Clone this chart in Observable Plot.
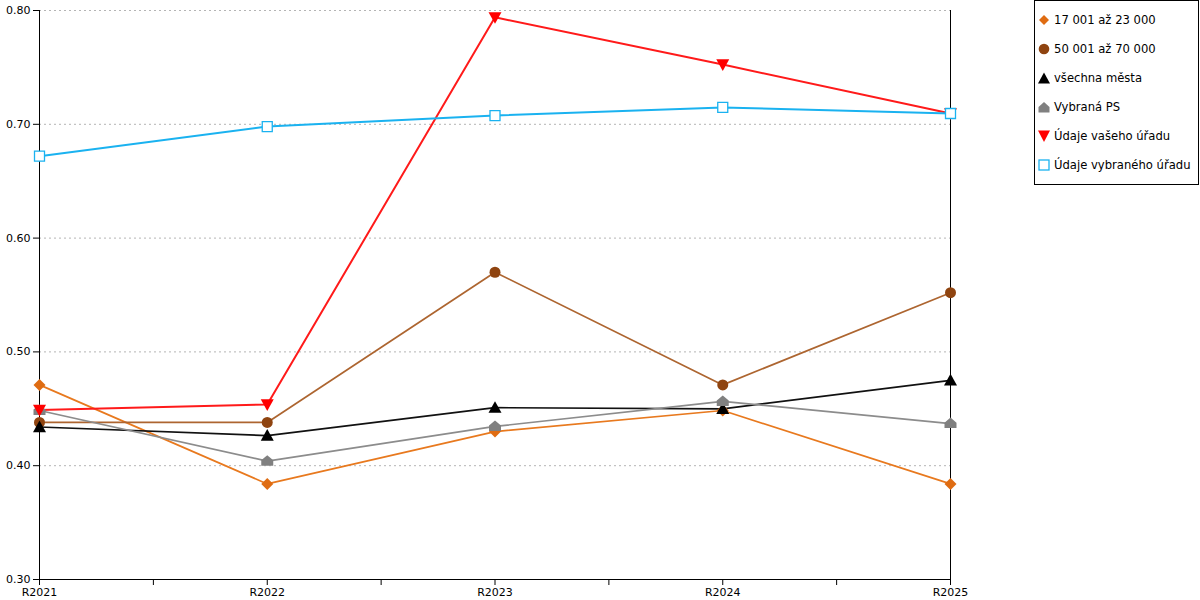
<!DOCTYPE html>
<html>
<head>
<meta charset="utf-8">
<script src="https://cdn.jsdelivr.net/npm/d3@7"></script>
<script src="https://cdn.jsdelivr.net/npm/@observablehq/plot@0.6"></script>
<style>
  body { margin: 0; background: #fff; font-family: "DejaVu Sans", Verdana, sans-serif; }
  #wrap { position: relative; width: 1200px; height: 600px; overflow: hidden; }
  #chart { position: absolute; left: 0; top: 0; }
  #legend { position: absolute; left: 1034px; top: 0; width: 163px; height: 183px; border: 1px solid #000; background: #fff; box-sizing: content-box; }
  .item { position: absolute; left: 2px; height: 16px; display: flex; align-items: center; font-size: 11.6px; color: #000; white-space: nowrap; }
  .item svg { width: 14px; height: 14px; margin-right: 3px; flex: none; }
</style>
</head>
<body>
<div id="wrap">
  <div id="chart"></div>
  <div id="legend"></div>
</div>
<script>
const years = ["R2021", "R2022", "R2023", "R2024", "R2025"];
const seriesNames = ["17 001 až 23 000", "50 001 až 70 000", "všechna města", "Vybraná PS", "Údaje vašeho úřadu", "Údaje vybraného úřadu"];
const v17001 = [0.471, 0.384, 0.430, 0.4485, 0.384];
const v50001 = [0.438, 0.438, 0.570, 0.471, 0.552];
const vVsechna = [0.434, 0.4265, 0.451, 0.450, 0.475];
const vVybranaPS = [0.4485, 0.404, 0.4345, 0.4565, 0.437];
const vVasUrad = [0.449, 0.4538, 0.794, 0.7525, 0.7095];
const vVybranyUrad = [0.672, 0.698, 0.7077, 0.7148, 0.7095];
const yTicks = [0.30, 0.40, 0.50, 0.60, 0.70, 0.80];

// symbol shapes (half-extent = r)
function sym(drawFn) { return { draw(ctx, size) { drawFn(ctx, Math.sqrt(size / Math.PI)); } }; }
const symDiamond = sym((c, r) => { c.moveTo(0, -r); c.lineTo(r, 0); c.lineTo(0, r); c.lineTo(-r, 0); c.closePath(); });
const symCircle = sym((c, r) => { c.moveTo(r, 0); c.arc(0, 0, r, 0, 2 * Math.PI); c.closePath(); });
const symTriUp = sym((c, r) => { c.moveTo(0, -r); c.lineTo(r, r * 0.8); c.lineTo(-r, r * 0.8); c.closePath(); });
const symHouse = sym((c, r) => { c.moveTo(0, -r); c.lineTo(r, -r * 0.15); c.lineTo(r, r * 0.75); c.lineTo(-r, r * 0.75); c.lineTo(-r, -r * 0.15); c.closePath(); });
const symTriDown = sym((c, r) => { c.moveTo(-r, -r * 0.8); c.lineTo(r, -r * 0.8); c.lineTo(0, r); c.closePath(); });
const symSquare = sym((c, r) => { c.rect(-r, -r, 2 * r, 2 * r); });

const series = [
  { name: seriesNames[0], values: v17001, line: "#e8791e", fill: "#df6c12", stroke: "none", lw: 1.7, symbol: symDiamond, r: 6, lsvg: "diamond" },
  { name: seriesNames[1], values: v50001, line: "#ad6530", fill: "#8f4410", stroke: "none", lw: 1.7, symbol: symCircle, r: 5.5, lsvg: "circle" },
  { name: seriesNames[2], values: vVsechna, line: "#111111", fill: "#000000", stroke: "none", lw: 1.7, symbol: symTriUp, r: 6.5, lsvg: "triup" },
  { name: seriesNames[3], values: vVybranaPS, line: "#8c8c8c", fill: "#808080", stroke: "none", lw: 1.7, symbol: symHouse, r: 6, lsvg: "house" },
  { name: seriesNames[4], values: vVasUrad, line: "#ff1a1a", fill: "#ff0000", stroke: "none", lw: 2, symbol: symTriDown, r: 6.5, lsvg: "tridown" },
  { name: seriesNames[5], values: vVybranyUrad, line: "#1ab2f0", fill: "#ffffff", stroke: "#1ab2f0", lw: 2, symbol: symSquare, r: 5, lsvg: "square" }
];

const marks = [
  Plot.gridY([0.40, 0.50, 0.60, 0.70, 0.80], { stroke: "#b4b4b4", strokeOpacity: 1, strokeDasharray: "2,3", strokeWidth: 1 }),
  Plot.axisY({ ticks: yTicks, tickFormat: d3.format(".2f"), tickSize: 6, tickPadding: 3, fontSize: 11, stroke: "#000", label: null }),
  Plot.axisX({ ticks: d3.range(0, 4.01, 0.5), tickFormat: d => Number.isInteger(d) ? years[d] : "", tickSize: 6, tickPadding: 3, fontSize: 11, stroke: "#000", label: null }),
  Plot.ruleY([0.30], { stroke: "#000", strokeWidth: 1 }),
  Plot.ruleX([0], { stroke: "#000", strokeWidth: 1 }),
  Plot.ruleX([4], { stroke: "#000", strokeWidth: 1 })
];
for (const s of series) {
  const data = s.values.map((v, i) => ({ x: i, y: v }));
  marks.push(Plot.line(data, { x: "x", y: "y", stroke: s.line, strokeWidth: s.lw }));
}
for (const s of series) {
  const data = s.values.map((v, i) => ({ x: i, y: v }));
  marks.push(Plot.dot(data, { x: "x", y: "y", symbol: s.symbol, r: s.r, fill: s.fill, stroke: s.stroke, strokeWidth: 1.3 }));
}

const chart = Plot.plot({
  width: 990,
  height: 600,
  marginLeft: 39,
  marginRight: 40,
  marginTop: 10,
  marginBottom: 21,
  style: { fontFamily: "DejaVu Sans, Verdana, sans-serif", fontSize: "11px", color: "#000", background: "transparent" },
  x: { type: "linear", domain: [0, 4], axis: null },
  y: { type: "linear", domain: [0.30, 0.80], axis: null },
  marks
});
document.getElementById("chart").appendChild(chart);

// legend
const legend = document.getElementById("legend");
const iconSvg = {
  diamond: (s) => `<polygon points="7,2 12,7 7,12 2,7" fill="${s.fill}"/>`,
  circle: (s) => `<circle cx="7" cy="7" r="5.3" fill="${s.fill}"/>`,
  triup: (s) => `<polygon points="7,1.5 13,12.5 1,12.5" fill="${s.fill}"/>`,
  house: (s) => `<polygon points="7,2 12.5,7 12.5,12.5 1.5,12.5 1.5,7" fill="${s.fill}"/>`,
  tridown: (s) => `<polygon points="1,1.5 13,1.5 7,13" fill="${s.fill}"/>`,
  square: (s) => `<rect x="2" y="2" width="10" height="10" fill="#fff" stroke="${s.stroke}" stroke-width="1.3"/>`
};
series.forEach((s, i) => {
  const div = document.createElement("div");
  div.className = "item";
  div.style.top = (11 + i * 29) + "px";
  div.innerHTML = `<svg viewBox="0 0 14 14">${iconSvg[s.lsvg](s)}</svg><span>${s.name}</span>`;
  legend.appendChild(div);
});
</script>
</body>
</html>
